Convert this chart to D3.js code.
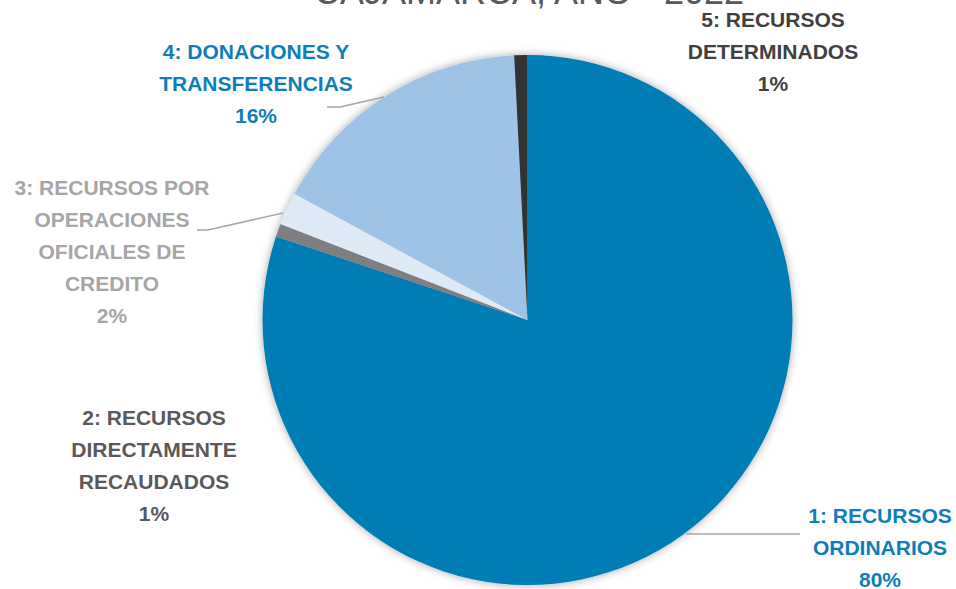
<!DOCTYPE html>
<html>
<head>
<meta charset="utf-8">
<script src="https://cdn.jsdelivr.net/npm/d3@7"></script>
<style>
html,body{margin:0;padding:0;background:#fff;}
svg{display:block;}
</style>
</head>
<body>
<svg id="chart" width="956" height="589"></svg>
<script>
// ---- data ----
const title = "CAJAMARCA, AÑO - 2022";
const categories = [
  "1: RECURSOS ORDINARIOS",
  "2: RECURSOS DIRECTAMENTE RECAUDADOS",
  "3: RECURSOS POR OPERACIONES OFICIALES DE CREDITO",
  "4: DONACIONES Y TRANSFERENCIAS",
  "5: RECURSOS DETERMINADOS"
];
const values = [80.1, 0.8, 2.0, 16.3, 0.8];
const labelLines = [
  ["1: RECURSOS", "ORDINARIOS"],
  ["2: RECURSOS", "DIRECTAMENTE", "RECAUDADOS"],
  ["3: RECURSOS POR", "OPERACIONES", "OFICIALES DE", "CREDITO"],
  ["4: DONACIONES Y", "TRANSFERENCIAS"],
  ["5: RECURSOS", "DETERMINADOS"]
];

// ---- style / layout ----
const sliceColors = ["#007DB4", "#7F7F7F", "#DEEBF7", "#9DC3E6", "#333333"];
const labelColors = ["#0F7EB8", "#595959", "#A6A6A6", "#0F7EB8", "#404040"];
const labelPos = [
  {x: 880, y: 516}, {x: 154, y: 418}, {x: 112, y: 188}, {x: 256, y: 52}, {x: 773, y: 20}
];
const leaders = [
  [[686, 534], [800, 534]],
  null,
  [[197, 230], [208, 230], [283, 213]],
  [[327, 107], [340, 107], [384, 97]],
  null
];

const svg = d3.select("#chart");
const cx = 527.5, cy = 320, R = 265;

const defs = svg.append("defs");
const f = defs.append("filter").attr("id", "sh").attr("x", "-10%").attr("y", "-10%").attr("width", "120%").attr("height", "120%");
f.append("feDropShadow").attr("dx", 0).attr("dy", 0).attr("stdDeviation", 4).attr("flood-color", "#000").attr("flood-opacity", 0.35);

// title (partially outside view)
svg.append("text")
  .attr("x", 529).attr("y", 4)
  .attr("text-anchor", "middle")
  .attr("font-family", "Liberation Sans, Arial, sans-serif")
  .attr("font-size", 36)
  .attr("fill", "#595959")
  .text(title);

const pie = d3.pie().sort(null).value(d => d);
const arcs = pie(values);
const arc = d3.arc().innerRadius(0).outerRadius(R);

const g = svg.append("g").attr("transform", `translate(${cx},${cy})`);
g.append("g").attr("filter", "url(#sh)")
  .selectAll("path").data(arcs).enter().append("path")
  .attr("d", arc)
  .attr("fill", (d, i) => sliceColors[i]);

// leader lines
const line = d3.line();
leaders.forEach((pts) => {
  if (!pts) return;
  svg.append("path").attr("d", line(pts))
    .attr("fill", "none").attr("stroke", "#A6A6A6").attr("stroke-width", 1.5);
});

// labels
const total = d3.sum(values);
arcs.forEach((d, i) => {
  const lines = labelLines[i].concat([Math.round(d.data / total * 100) + "%"]);
  const t = svg.append("text")
    .attr("text-anchor", "middle")
    .attr("font-family", "Liberation Sans, Arial, sans-serif")
    .attr("font-weight", "bold")
    .attr("font-size", 21)
    .attr("fill", labelColors[i]);
  lines.forEach((s, k) => {
    t.append("tspan")
      .attr("x", labelPos[i].x)
      .attr("y", labelPos[i].y + k * 32)
      .attr("dy", "0.35em")
      .text(s);
  });
});
</script>
</body>
</html>
